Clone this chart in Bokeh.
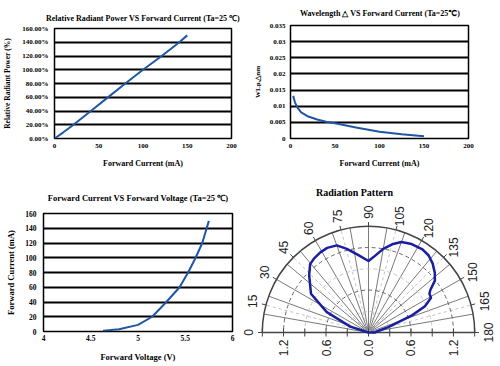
import math
from bokeh.plotting import figure
from bokeh.layouts import column, row
from bokeh.models import Range1d, FixedTicker, NumeralTickFormatter
from bokeh.core.properties import value
from bokeh.embed import file_html
from bokeh.resources import INLINE

# ---------------- data ----------------
# Relative radiant power vs forward current
power_current_ma = [0, 10, 20, 40, 60, 80, 100, 120, 140, 150]
power_relative = [0.0, 0.09, 0.185, 0.39, 0.595, 0.80, 1.00, 1.19, 1.39, 1.50]
power_x_ticks = [0, 50, 100, 150, 200]
power_y_ticks = [0.0, 0.2, 0.4, 0.6, 0.8, 1.0, 1.2, 1.4, 1.6]

# Wavelength shift vs forward current
wl_current_ma = [3, 5, 8, 12, 20, 30, 40, 50, 75, 100, 125, 150]
wl_shift_nm = [0.0132, 0.0112, 0.0095, 0.0081, 0.0068, 0.0059, 0.0052, 0.0047,
               0.0033, 0.0021, 0.0013, 0.0007]
wl_x_ticks = [0, 50, 100, 150, 200]
wl_y_ticks = [0, 0.005, 0.01, 0.015, 0.02, 0.025, 0.03, 0.035]
wl_y_labels = ["0", "0.005", "0.01", "0.015", "0.02", "0.025", "0.03", "0.035"]

# Forward current vs forward voltage
iv_voltage_v = [4.63, 4.8, 5.0, 5.15, 5.3, 5.44, 5.53, 5.61, 5.68, 5.75]
iv_current_ma = [1, 3, 9, 20, 40, 60, 80, 100, 120, 150]
iv_x_ticks = [4, 4.5, 5, 5.5, 6]
iv_x_labels = ["4", "4.5", "5", "5.5", "6"]
iv_y_ticks = [0, 20, 40, 60, 80, 100, 120, 140, 160]

# Radiation pattern (angle in degrees, relative intensity)
rad_angle_deg = [0, 18, 26, 34, 44, 49.5, 54, 59, 64, 70, 75.5, 82, 90, 95, 100,
                 105, 110, 116, 123, 128, 133, 138, 142, 145.5, 147.5, 151, 155,
                 158.5, 165, 172, 180, 180]
rad_intensity = [0.0, 0.27, 0.655, 0.98, 1.165, 1.27, 1.30, 1.32, 1.33, 1.31, 1.22,
                 1.11, 1.01, 1.09, 1.20, 1.29, 1.36, 1.39, 1.40, 1.38, 1.33, 1.26,
                 1.19, 1.06, 1.02, 1.01, 0.88, 0.66, 0.29, 0.13, 0.09, 0.0]
rad_label_angles = [0, 15, 30, 45, 60, 75, 90, 105, 120, 135, 150, 165, 180]
rad_ring_major = [0.6, 1.2]
rad_ring_minor = [0.3, 0.9]
rad_outer = 1.5
rad_axis_ticks = [-1.2, -0.6, 0.0, 0.6, 1.2]
rad_axis_minor = [-1.5, -0.9, -0.3, 0.3, 0.9, 1.5]
rad_spokes_solid = [0, 10, 20, 30, 40, 50, 60, 70, 80, 90, 100, 110, 120, 130, 140, 150, 160, 170, 180]
rad_spokes_dashed = [15, 45, 75, 105, 135, 165]

# ---------------- styling helpers ----------------
SERIF = "Liberation Serif"
SANS = "Liberation Sans"
CURVE = "#1f57a3"


def style_xy(p, title_px, title_standoff, tick_px, xlabel_px, ylabel_px,
             x_std, y_std, xl_std, yl_std, title_valign="bottom"):
    p.frame_align = False
    p.title.text_font = SERIF
    p.title.text_font_style = "bold"
    p.title.text_font_size = title_px
    p.title.align = "center"
    p.title.vertical_align = title_valign
    p.title.standoff = title_standoff
    p.title.text_color = "black"
    p.outline_line_color = "black"
    p.outline_line_width = 1.5
    p.outline_line_alpha = 1.0
    p.xgrid.visible = False
    p.ygrid.grid_line_color = "black"
    p.ygrid.grid_line_width = 2
    p.ygrid.grid_line_alpha = 1.0
    p.background_fill_color = "white"
    p.border_fill_color = "white"
    for ax, std, lstd, lpx in ((p.xaxis[0], x_std, xl_std, xlabel_px),
                               (p.yaxis[0], y_std, yl_std, ylabel_px)):
        ax.axis_line_color = None
        ax.major_tick_line_color = None
        ax.minor_tick_line_color = None
        ax.major_tick_out = 0
        ax.major_tick_in = 0
        ax.minor_tick_out = 0
        ax.minor_tick_in = 0
        ax.major_label_standoff = std
        ax.major_label_text_font = SERIF
        ax.major_label_text_font_style = "bold"
        ax.major_label_text_font_size = tick_px
        ax.major_label_text_color = "black"
        ax.axis_label_standoff = lstd
        ax.axis_label_text_font = SERIF
        ax.axis_label_text_font_style = "bold"
        ax.axis_label_text_font_size = lpx
        ax.axis_label_text_color = "black"


# ---------------- panel 1 ----------------
p1 = figure(width=250, height=180, output_backend="svg", toolbar_location=None,
            title="Relative Radiant Power VS Forward Current (Ta=25 \u2103)",
            x_range=Range1d(0, 200), y_range=Range1d(0, 1.6),
            min_border_left=53, min_border_right=19, min_border_top=28, min_border_bottom=42,
            x_axis_label="Forward Current (mA)", y_axis_label="Relative Radiant Power (%)")
style_xy(p1, "8px", 11, "7px", "8px", "7.5px", 5, 6, 8, 7)
p1.xaxis.ticker = FixedTicker(ticks=power_x_ticks)
p1.yaxis.ticker = FixedTicker(ticks=power_y_ticks)
p1.ygrid.ticker = FixedTicker(ticks=power_y_ticks)
p1.yaxis.formatter = NumeralTickFormatter(format="0.00%")
p1.line(power_current_ma, power_relative, line_color=CURVE, line_width=2)

# ---------------- panel 2 ----------------
p2 = figure(width=250, height=180, output_backend="svg", toolbar_location=None,
            title="Wavelength \u25b3 VS Forward Current (Ta=25\u2103)",
            x_range=Range1d(0, 200), y_range=Range1d(0, 0.035),
            min_border_left=34, min_border_right=32, min_border_top=25, min_border_bottom=42,
            x_axis_label="Forward Current (mA)", y_axis_label="WLp,\u25b3nm")
style_xy(p2, "8px", 12, "7px", "8px", "7px", 5, 5, 8, 5, title_valign="top")
p2.xaxis.ticker = FixedTicker(ticks=wl_x_ticks)
p2.yaxis.ticker = FixedTicker(ticks=wl_y_ticks)
p2.ygrid.ticker = FixedTicker(ticks=wl_y_ticks)
p2.yaxis.major_label_overrides = dict(zip(wl_y_ticks, wl_y_labels))
p2.line(wl_current_ma, wl_shift_nm, line_color=CURVE, line_width=2)

# ---------------- panel 3 ----------------
p3 = figure(width=240, height=186, output_backend="svg", toolbar_location=None,
            title="Forward Current VS Forward Voltage (Ta=25 \u2103)",
            x_range=Range1d(4, 6), y_range=Range1d(0, 160),
            min_border_left=43, min_border_right=8, min_border_top=33, min_border_bottom=35,
            x_axis_label="Forward Voltage (V)", y_axis_label="Forward Current (mA)")
style_xy(p3, "8.5px", 18, "7.5px", "8.5px", "8.5px", 3, 7, 8, 6, title_valign="top")
p3.xaxis.ticker = FixedTicker(ticks=iv_x_ticks)
p3.xaxis.major_label_overrides = dict(zip(iv_x_ticks, iv_x_labels))
p3.yaxis.ticker = FixedTicker(ticks=iv_y_ticks)
p3.ygrid.ticker = FixedTicker(ticks=iv_y_ticks)
p3.line(iv_voltage_v, iv_current_ma, line_color=CURVE, line_width=2)

# ---------------- panel 4 (polar) ----------------
PX = 70.8  # screen pixels per radial unit
P4_W, P4_H, P4_CX, P4_CY = 260, 186, 128, 152   # centre of the half-disc, in screen px
p4 = figure(width=P4_W, height=P4_H, output_backend="svg", toolbar_location=None,
            x_range=Range1d(-P4_CX / PX, (P4_W - P4_CX) / PX),
            y_range=Range1d(-(P4_H - P4_CY) / PX, P4_CY / PX),
            x_axis_location=None, y_axis_location=None,
            min_border_left=0, min_border_right=0, min_border_top=0, min_border_bottom=0)
p4.frame_align = False
p4.grid.visible = False
p4.outline_line_color = None
p4.background_fill_color = "white"
p4.border_fill_color = "white"


def to_xy(angle_deg, r):
    phi = math.radians(180 - angle_deg)
    return r * math.cos(phi), r * math.sin(phi)


# spokes
sx1, sy1 = zip(*[to_xy(a, rad_outer) for a in rad_spokes_solid])
p4.segment(x0=[0] * len(sx1), y0=[0] * len(sx1), x1=list(sx1), y1=list(sy1),
           line_color="#7a7a7a", line_width=1)
dx1, dy1 = zip(*[to_xy(a, rad_outer) for a in rad_spokes_dashed])
p4.segment(x0=[0] * len(dx1), y0=[0] * len(dx1), x1=list(dx1), y1=list(dy1),
           line_color="#c4c4c4", line_width=1, line_dash="3 3")
# rings
p4.arc(x=[0] * len(rad_ring_minor), y=[0] * len(rad_ring_minor), radius=rad_ring_minor,
       start_angle=0, end_angle=math.pi, line_color="#c4c4c4", line_width=1, line_dash="4 3")
p4.arc(x=[0] * len(rad_ring_major), y=[0] * len(rad_ring_major), radius=rad_ring_major,
       start_angle=0, end_angle=math.pi, line_color="#666666", line_width=1, line_dash="4 3")
p4.arc(x=[0], y=[0], radius=[rad_outer], start_angle=0, end_angle=math.pi,
       line_color="#444444", line_width=1.5)
# outer tick marks
t0 = [to_xy(a, rad_outer) for a in rad_label_angles]
t1 = [to_xy(a, rad_outer + 0.06) for a in rad_label_angles]
p4.segment(x0=[t[0] for t in t0], y0=[t[1] for t in t0],
           x1=[t[0] for t in t1], y1=[t[1] for t in t1], line_color="#444444", line_width=1)
# baseline (radial scale) with ticks and labels
p4.segment(x0=[-rad_outer], y0=[0], x1=[rad_outer], y1=[0], line_color="#444444", line_width=1.5)
all_ticks = sorted(rad_axis_ticks + rad_axis_minor)
p4.segment(x0=all_ticks, y0=[-4 / PX] * len(all_ticks), x1=all_ticks, y1=[4 / PX] * len(all_ticks),
           line_color="#444444", line_width=1)
p4.text(x=rad_axis_ticks, y=[-7 / PX] * len(rad_axis_ticks),
        text=[f"{abs(v):.1f}" for v in rad_axis_ticks], angle=math.pi / 2,
        text_font=value(SANS), text_font_size="12px", text_align="right",
        text_baseline="middle", text_color="#222222")
# pattern curve
cx, cy = zip(*[to_xy(a, r) for a, r in zip(rad_angle_deg, rad_intensity)])
p4.line(list(cx), list(cy), line_color="#1a1fa0", line_width=2.5)
# angle labels
lx, ly = zip(*[to_xy(a, rad_outer + 0.2) for a in rad_label_angles])
p4.text(x=list(lx), y=list(ly), text=[str(a) for a in rad_label_angles], angle=math.pi / 2,
        text_font=value(SANS), text_font_size="12px", text_align="center",
        text_baseline="middle", text_color="#222222")
# title
p4.text(x=[-14 / PX], y=[(P4_CY - 12) / PX], text=["Radiation Pattern"],
        text_font=value(SERIF), text_font_style="bold", text_font_size="10px",
        text_align="center", text_baseline="middle", text_color="black")

layout = column(row(p1, p2), row(p3, p4))
open("out.html", "w").write(file_html(layout, INLINE))
